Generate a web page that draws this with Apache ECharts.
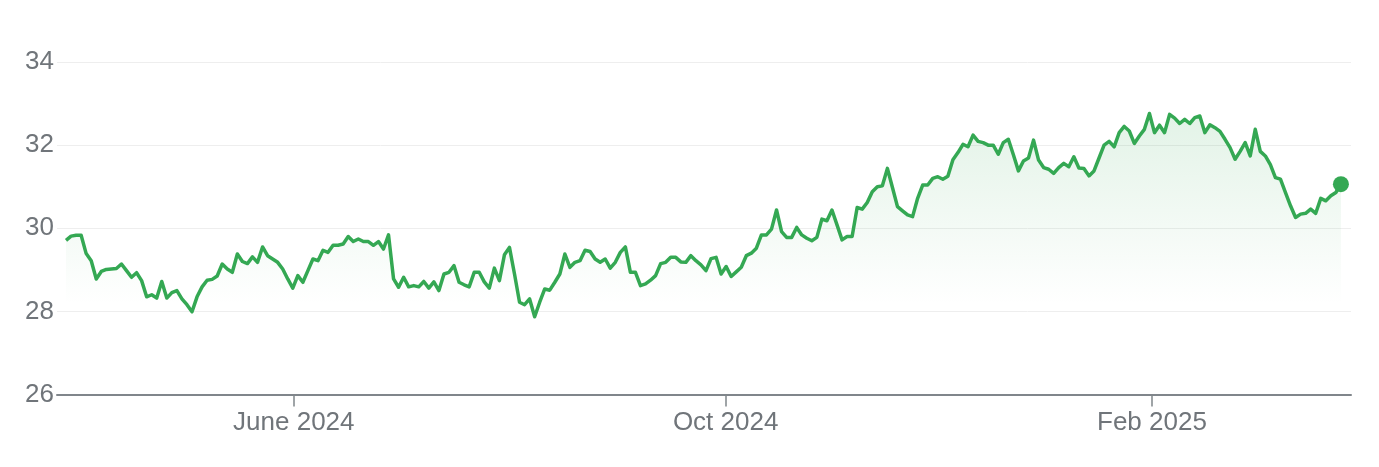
<!DOCTYPE html>
<html><head><meta charset="utf-8">
<script src="https://cdn.jsdelivr.net/npm/echarts@6/dist/echarts.min.js"></script>
<style>html,body{margin:0;padding:0;background:#fff}#c{width:1379px;height:467px}</style>
</head><body><div id="c"></div>
<script>
// Daily closing prices (one per trading day)
const prices = [
29.71, 29.81, 29.83, 29.83, 29.39, 29.22, 28.78, 28.96, 29.01, 29.02,
29.03, 29.14, 28.98, 28.82, 28.93, 28.74, 28.35, 28.40, 28.32, 28.72,
28.32, 28.45, 28.50, 28.30, 28.16, 27.99, 28.35, 28.59, 28.75, 28.77,
28.85, 29.14, 29.02, 28.94, 29.38, 29.20, 29.15, 29.31, 29.18, 29.55,
29.34, 29.26, 29.18, 29.02, 28.78,
28.56, 28.86, 28.70, 28.98, 29.26, 29.22, 29.47, 29.42, 29.59, 29.59,
29.62, 29.80, 29.68, 29.74, 29.68, 29.68, 29.59, 29.68, 29.50, 29.84,
28.78, 28.58, 28.82, 28.59, 28.62, 28.59, 28.72, 28.56, 28.71, 28.50,
28.90, 28.94, 29.10, 28.70, 28.64, 28.59, 28.94, 28.94, 28.71, 28.56,
29.04, 28.74, 29.36, 29.54,
28.90, 28.22, 28.16, 28.30, 27.87, 28.22, 28.54, 28.51, 28.70, 28.90,
29.38, 29.06, 29.18, 29.22, 29.47, 29.44, 29.26, 29.18, 29.26, 29.04,
29.18, 29.42, 29.55, 28.94, 28.94, 28.62, 28.66, 28.75, 28.86, 29.15,
29.18, 29.30, 29.30, 29.19, 29.18, 29.34, 29.22, 29.12, 28.98, 29.27,
29.30, 28.90, 29.08, 28.84, 28.95,
29.06, 29.34, 29.40, 29.52, 29.84, 29.84, 29.98, 30.44, 29.92, 29.78,
29.78, 30.02, 29.84, 29.76, 29.70, 29.78, 30.22, 30.18, 30.44, 30.08,
29.72, 29.80, 29.80, 30.50, 30.46, 30.62, 30.88, 31.00, 31.02, 31.44,
30.98, 30.52, 30.42, 30.32, 30.28, 30.72, 31.04, 31.04, 31.20, 31.24,
31.18, 31.25, 31.65,
31.82, 32.02, 31.96, 32.24, 32.09, 32.06, 32.00, 32.00, 31.78, 32.06,
32.14, 31.77, 31.38, 31.62, 31.69, 32.12, 31.64, 31.46, 31.42, 31.32,
31.46, 31.56, 31.48, 31.72, 31.45, 31.44, 31.26, 31.38, 31.69, 32.00,
32.09, 31.96, 32.30, 32.45, 32.34, 32.04, 32.22, 32.38, 32.76,
32.30, 32.48, 32.30, 32.74, 32.65, 32.52, 32.62, 32.52, 32.66, 32.70,
32.30, 32.49, 32.42, 32.33, 32.14, 31.94, 31.66, 31.85, 32.06, 31.74,
32.38, 31.85, 31.74, 31.53, 31.22, 31.18, 30.86, 30.54, 30.26, 30.34,
30.36, 30.46, 30.36, 30.72, 30.66, 30.78, 30.86, 31.06
];
// Month tick positions, in trading-day index units
const tickPositions = [45.2, 130.9, 215.5];
const tickLabels = ['June 2024', 'Oct 2024', 'Feb 2025'];
const yMin = 26, yMax = 34, yStep = 2;

const green = '#34A853';
const lineData = prices.map((v, i) => [i, v]);
const lastPoint = [[prices.length - 1, prices[prices.length - 1]]];
const font = "Arial, 'Liberation Sans', Helvetica, sans-serif";

const chart = echarts.init(document.getElementById('c'), null, {renderer: 'canvas'});
chart.setOption({
  animation: false,
  backgroundColor: '#ffffff',
  grid: {left: 57, right: 28, top: 62, bottom: 72.5, containLabel: false},
  xAxis: {
    type: 'value',
    min: -1.79,
    max: 255.0,
    axisLine: {show: true, onZero: false, lineStyle: {color: '#80868b', width: 2}},
    axisTick: {show: true, length: 12, customValues: tickPositions, lineStyle: {color: '#80868b', width: 1.5}},
    axisLabel: {
      show: true, customValues: tickPositions, margin: 15,
      color: '#70757a', fontSize: 26, fontFamily: font,
      formatter: function (v) {
        let best = 0, d = Infinity;
        tickPositions.forEach((t, k) => { if (Math.abs(t - v) < d) { d = Math.abs(t - v); best = k; } });
        return tickLabels[best];
      }
    },
    splitLine: {show: false}
  },
  yAxis: {
    type: 'value',
    min: yMin, max: yMax, interval: yStep,
    axisLine: {show: false},
    axisTick: {show: false},
    axisLabel: {margin: 3, color: '#70757a', fontSize: 26, fontFamily: font, padding: [3, 0, 0, 0]},
    splitLine: {show: true, lineStyle: {color: '#eeeeee', width: 1}}
  },
  series: [
    {
      type: 'line',
      data: lineData,
      showSymbol: false,
      symbol: 'none',
      lineStyle: {color: green, width: 3.5, join: 'round'},
      areaStyle: {
        origin: 'start',
        color: {
          type: 'linear', x: 0, y: 0, x2: 0, y2: 1,
          colorStops: [
            {offset: 0, color: 'rgba(52,168,83,0.2)'},
            {offset: 0.68, color: 'rgba(52,168,83,0)'}
          ]
        }
      },
      z: 2
    },
    {
      type: 'scatter',
      data: lastPoint,
      symbol: 'circle',
      symbolSize: 16,
      itemStyle: {color: green, opacity: 1},
      z: 3
    }
  ]
});
</script>
</body></html>
